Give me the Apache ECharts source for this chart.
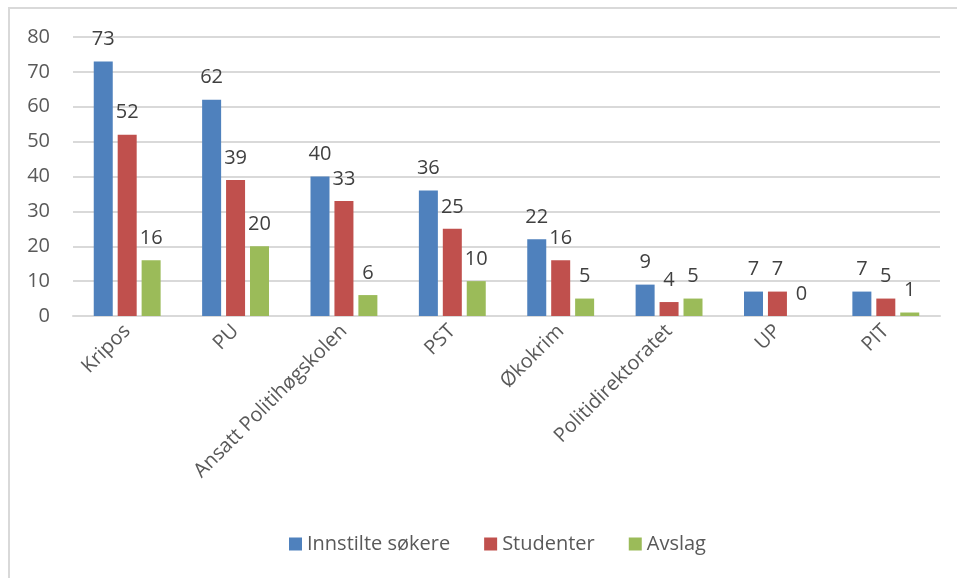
<!DOCTYPE html>
<html><head><meta charset="utf-8">
<script src="https://cdn.jsdelivr.net/npm/echarts@6/dist/echarts.min.js"></script>
<style>html,body{margin:0;padding:0;background:#fff}#c{width:957px;height:578px}</style>
</head><body><div id="c"></div>
<script>
const categories = ["Kripos","PU","Ansatt Politihøgskolen","PST","Økokrim","Politidirektoratet","UP","PIT"];
const seriesNames = ["Innstilte søkere","Studenter","Avslag"];
const innstilte = [73,62,40,36,22,9,7,7];
const studenter = [52,39,33,25,16,4,7,5];
const avslag = [16,20,6,10,5,5,0,1];
const yTicks = [0,10,20,30,40,50,60,70,80];

const colors = ["#4f81bd","#c0504d","#9bbb59"];
const font = "'Open Sans', 'DejaVu Sans', sans-serif";
const chart = echarts.init(document.getElementById('c'));
const mk = (name, data, i) => ({
  name, type:'bar', data, barWidth:19, barGap:'26%',
  itemStyle:{color:colors[i]},
  label:{show:true, position:'top', distance:12, color:'#404040', fontSize:20, fontFamily:font},
  emphasis:{disabled:true}
});
chart.setOption({
  animation:false,
  textStyle:{fontFamily:font},
  graphic:[{type:'rect', shape:{x:9,y:8,width:960,height:600}, style:{fill:'none', stroke:'#d9d9d9', lineWidth:2}, silent:true}],
  legend:{data:seriesNames, bottom:19, left:284, itemWidth:13, itemHeight:13, itemGap:34, icon:'rect',
    textStyle:{fontSize:20, color:'#595959', fontFamily:font}},
  grid:{left:73, right:17, top:37, bottom:262, containLabel:false},
  xAxis:{type:'category', data:categories,
    axisLine:{lineStyle:{color:'#d9d9d9', width:2}}, axisTick:{show:false},
    axisLabel:{rotate:45, fontSize:20, color:'#595959', fontFamily:font, margin:12, interval:0}},
  yAxis:{type:'value', min:yTicks[0], max:yTicks[yTicks.length-1], interval:10,
    axisLine:{show:false}, axisTick:{show:false},
    splitLine:{lineStyle:{color:'#d9d9d9', width:2}},
    axisLabel:{fontSize:20, color:'#595959', fontFamily:font, margin:23}},
  series:[mk(seriesNames[0],innstilte,0), mk(seriesNames[1],studenter,1), mk(seriesNames[2],avslag,2)]
});
</script></body></html>
